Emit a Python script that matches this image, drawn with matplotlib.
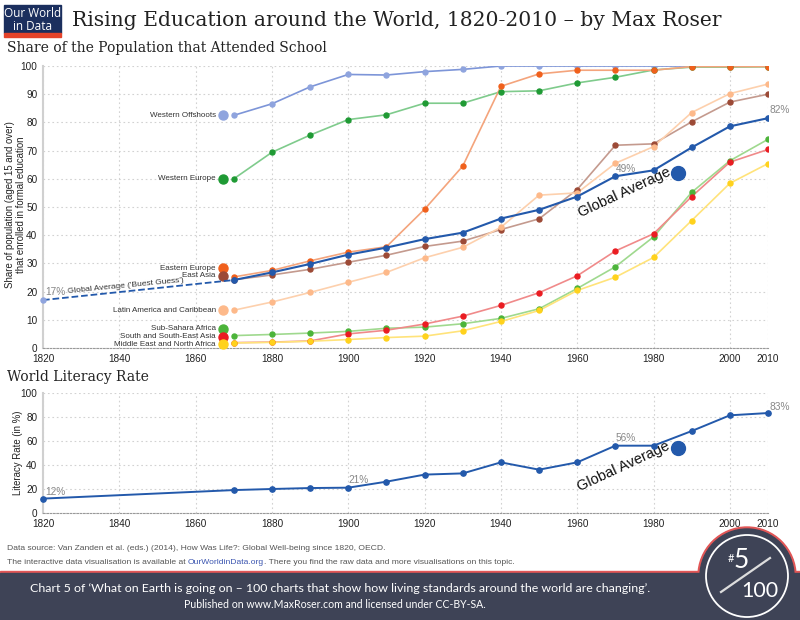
import matplotlib
matplotlib.use('Agg')
import matplotlib.pyplot as plt
from matplotlib.patches import Rectangle, Circle

# ---- datos ----
anios = [1870, 1880, 1890, 1900, 1910, 1920, 1930, 1940, 1950, 1960, 1970, 1980, 1990, 2000, 2010]

western_offshoots = [82.5, 86.6, 92.6, 97.0, 96.8, 98.0, 98.8, 100, 100, 100, 100, 100, 100, 100, 100]
western_europe = [60.0, 69.4, 75.5, 81.0, 82.7, 86.8, 86.8, 90.9, 91.2, 94.0, 96.0, 98.6, 99.6, 99.6, 99.7]
eastern_europe = [25.2, 27.5, 30.9, 34.0, 35.9, 49.2, 64.5, 92.8, 97.2, 98.5, 98.5, 98.5, 99.8, 99.8, 99.8]
east_asia = [24.2, 25.9, 27.9, 30.4, 32.9, 36.0, 37.9, 42.0, 45.8, 56.2, 71.9, 72.4, 80.2, 87.2, 90.0]
latin_america = [13.4, 16.3, 19.7, 23.3, 26.8, 32.0, 35.7, 42.8, 54.2, 55.0, 65.5, 71.4, 83.5, 90.2, 93.6]
sub_sahara = [4.4, 4.8, 5.3, 5.9, 7.0, 7.4, 8.6, 10.5, 13.9, 21.1, 28.8, 39.4, 55.2, 66.4, 74.0]
south_asia = [1.9, 2.1, 2.5, 5.0, 6.3, 8.5, 11.3, 15.1, 19.6, 25.6, 34.4, 40.5, 53.7, 65.9, 70.4]
mena = [1.8, 2.0, 2.4, 3.0, 3.7, 4.2, 6.1, 9.4, 13.3, 20.4, 25.1, 32.1, 45.2, 58.4, 65.4]

anios_global = [1870, 1880, 1890, 1900, 1910, 1920, 1930, 1940, 1950, 1960, 1970, 1980, 1990, 2000, 2010]
global_avg = [24.1, 26.8, 29.8, 33.1, 35.6, 38.6, 40.9, 45.9, 49.0, 53.7, 60.9, 63.0, 71.1, 78.6, 81.5]
anios_guess = [1820, 1870]
global_guess = [17, 24.1]

anios_lit = [1820, 1870, 1880, 1890, 1900, 1910, 1920, 1930, 1940, 1950, 1960, 1970, 1980, 1990, 2000, 2010]
literacy = [12.0, 19.1, 20.0, 20.8, 21.1, 26.1, 32.0, 33.0, 42.2, 36.1, 42.2, 56.1, 56.1, 68.3, 81.4, 83.3]

regiones = ['Western Offshoots', 'Western Europe', 'Eastern Europe', 'East Asia',
            'Latin America and Caribbean', 'Sub-Sahara Africa', 'South and South-East Asia',
            'Middle East and North Africa']
valores = [western_offshoots, western_europe, eastern_europe, east_asia,
           latin_america, sub_sahara, south_asia, mena]
# (color linea, color punto)
colores = [('#7d95d8', '#8fa4de'), ('#7fcb8c', '#1f9a34'), ('#f4a47c', '#f0601c'),
           ('#c49a8e', '#9c4a36'), ('#fdd0ad', '#fdb98a'), ('#9fd98e', '#4cb43a'),
           ('#f08a8a', '#ea1c22'), ('#ffe37a', '#ffd21c')]
# posicion y de cada etiqueta
y_etiquetas = [82.5, 60, 28.3, 25.7, 13.3, 6.9, 4.0, 1.4]

x_ticks = [1820, 1840, 1860, 1880, 1900, 1920, 1940, 1960, 1980, 2000, 2010]
azul = '#2359ab'

plt.rcParams['font.family'] = ['Liberation Sans', 'DejaVu Sans']

fig = plt.figure(figsize=(8, 6.2), dpi=100)

# capa de fondo en pixeles para textos y decoracion
bg = fig.add_axes([0, 0, 1, 1])
bg.set_xlim(0, 800)
bg.set_ylim(620, 0)
bg.axis('off')


def estilo_ejes(ax, yticks):
    ax.set_xlim(1820, 2010)
    ax.set_xticks(x_ticks)
    ax.set_yticks(yticks)
    ax.grid(True, linestyle=(0, (1.5, 2.5)), color='#d2d2d2', linewidth=0.8)
    ax.tick_params(length=0, labelsize=7.2, colors='#222222', pad=4)
    for s in ['top', 'right']:
        ax.spines[s].set_visible(False)
    ax.spines['left'].set_color('#d0d0d0')
    ax.spines['left'].set_linewidth(1.5)
    ax.spines['bottom'].set_color('#999999')
    ax.spines['bottom'].set_linestyle((0, (1.5, 1.5)))
    ax.set_facecolor('none')


# ---- grafico superior ----
ax1 = fig.add_axes([43 / 800, 1 - 348 / 620, 725 / 800, 282 / 620])
estilo_ejes(ax1, range(0, 101, 10))
ax1.set_ylim(0, 100)

for nombre, vals, (cl, cp), ye in zip(regiones, valores, colores, y_etiquetas):
    ax1.plot(anios, vals, color=cl, linewidth=1.2, zorder=3)
    ax1.plot(anios, vals, linestyle='none', marker='o', markersize=3.6,
             color=cp, zorder=4)
    ax1.plot([1867.3], [ye], marker='o', markersize=6.5, color=cp, clip_on=False, zorder=5)
    ax1.text(1865.3, ye, nombre, ha='right', va='center', fontsize=5.8, color='#333333')

ax1.plot(anios_guess, global_guess, color=azul, linestyle='--', linewidth=1.3, zorder=5)
ax1.plot([1820], [17], marker='o', markersize=3.6, color='#8fa4de', clip_on=False, zorder=6)
ax1.plot(anios_global, global_avg, color=azul, linewidth=1.5, zorder=5)
ax1.plot(anios_global, global_avg, linestyle='none', marker='o', markersize=3.8, color=azul, zorder=6)

ax1.text(1820.6, 18.2, '17%', fontsize=7.3, color='#888888', va='bottom')
ax1.text(1841.6, 22.0, "Global Average ('Buest Guess')", fontsize=6.0, color='#333333',
         ha='center', va='center', rotation=5.5)
ax1.text(1970, 61.8, '49%', fontsize=7.3, color='#888888', va='bottom')
ax1.text(2010.5, 82.6, '82%', fontsize=7.3, color='#888888', va='bottom', clip_on=False)
ax1.text(1972.5, 55.3, 'Global Average', fontsize=10.5, color='#111111',
         ha='center', va='center', rotation=25)
ax1.plot([1986.4], [62], marker='o', markersize=10, color=azul, zorder=6)

# ---- grafico inferior ----
ax2 = fig.add_axes([43 / 800, 1 - 513 / 620, 725 / 800, 120 / 620])
estilo_ejes(ax2, range(0, 101, 20))
ax2.set_ylim(0, 100)
ax2.plot(anios_lit, literacy, color=azul, linewidth=1.4, zorder=5)
ax2.plot(anios_lit, literacy, linestyle='none', marker='o', markersize=3.8, color=azul,
         clip_on=False, zorder=6)
ax2.text(1820.6, 13.5, '12%', fontsize=7.3, color='#888888', va='bottom')
ax2.text(1900, 23.5, '21%', fontsize=7.3, color='#888888', va='bottom')
ax2.text(1970, 58.0, '56%', fontsize=7.3, color='#888888', va='bottom')
ax2.text(2010.5, 84.5, '83%', fontsize=7.3, color='#888888', va='bottom', clip_on=False)
ax2.text(1972, 38.6, 'Global Average', fontsize=10.5, color='#111111',
         ha='center', va='center', rotation=25)
ax2.plot([1986.4], [54], marker='o', markersize=10, color=azul, zorder=6)

# etiquetas de eje y
bg.text(15.5, 205, 'Share of population (aged 15 and over)\nthat enrolled in formal education',
        fontsize=6.9, color='#222222', rotation=90, ha='center', va='center',
        linespacing=1.15, multialignment='center')
bg.text(18, 453, 'Literacy Rate (in %)', fontsize=6.9, color='#222222', rotation=90,
        ha='center', va='center')

# ---- cabecera ----
bg.add_patch(Rectangle((4, 4.5), 57, 28.5, color='#1b2f5e'))
bg.add_patch(Rectangle((4, 33), 57, 3.5, color='#e4432a'))
bg.text(32.5, 13.5, 'Our World', color='white', fontsize=8.5, ha='center', va='center',
        family='Open Sans')
bg.text(32.5, 26, 'in Data', color='white', fontsize=8.5, ha='center', va='center',
        family='Open Sans')
bg.text(72, 20, 'Rising Education around the World, 1820-2010 \u2013 by Max Roser',
        fontsize=14.6, family='DejaVu Serif', va='center', color='#222222')
bg.text(7, 48, 'Share of the Population that Attended School', fontsize=10,
        family='DejaVu Serif', va='center', color='#222222')
bg.text(7, 377, 'World Literacy Rate', fontsize=10, family='DejaVu Serif',
        va='center', color='#222222')

# ---- pie ----
bg.text(7, 549, 'Data source: Van Zanden et al. (eds.) (2014), How Was Life?: Global Well-being since 1820, OECD.',
        fontsize=6.1, color='#555555', va='center')
t1 = bg.text(7, 562, 'The interactive data visualisation is available at ', fontsize=6.1,
             color='#555555', va='center')
t2 = bg.annotate('OurWorldinData.org', xy=(1, 0.5), xycoords=t1, va='center', ha='left',
                 fontsize=6.1, color='#3b55b0')
bg.annotate('. There you find the raw data and more visualisations on this topic.',
            xy=(1, 0.5), xycoords=t2, va='center', ha='left', fontsize=6.1, color='#555555')

oscuro = '#3e4356'
rojo = '#e25656'
bg.add_patch(Circle((747, 576), 49, color=rojo, zorder=1))
bg.add_patch(Rectangle((0, 570.5), 800, 50, color=rojo, zorder=1))
bg.add_patch(Circle((747, 576), 47, color=oscuro, zorder=2))
bg.add_patch(Rectangle((0, 572.5), 800, 50, color=oscuro, zorder=2))
bg.add_patch(Circle((747, 576), 41, fill=False, edgecolor='white', linewidth=1.3, zorder=3))
bg.plot([721, 770], [592, 558], color='#dddddd', linewidth=1.6, zorder=4)
bg.text(731, 559, '#', color='white', fontsize=8, ha='center', va='center',
        family='Lato', zorder=4)
bg.text(741, 561, '5', color='white', fontsize=19, ha='center', va='center',
        family='Lato', zorder=4)
bg.text(760, 591, '100', color='white', fontsize=15.5, ha='center', va='center',
        family='Lato', zorder=4)

bg.text(340, 589, 'Chart 5 of \u2018What on Earth is going on \u2013 100 charts that show how living standards around the world are changing\u2019.',
        color='white', fontsize=8.9, ha='center', va='center', family='Lato', zorder=4)
bg.text(335, 605, 'Published on www.MaxRoser.com and licensed under CC-BY-SA.',
        color='white', fontsize=7.6, ha='center', va='center', family='Lato', zorder=4)

fig.savefig('out.png', dpi=100)
